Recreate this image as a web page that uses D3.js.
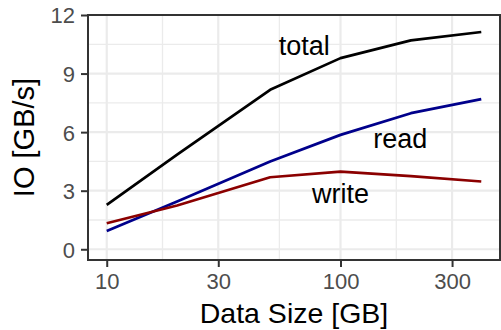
<!DOCTYPE html>
<html><head><meta charset="utf-8">
<script src="https://cdn.jsdelivr.net/npm/d3@7"></script>
<style>body{margin:0;background:#fff}svg{display:block;font-family:"Liberation Sans",Arial,sans-serif}</style>
</head><body><svg id="c" width="501" height="330"></svg>
<script>
const sizes = [10, 20, 50, 100, 200, 400];
const totalIO = [2.27, 4.85, 8.17, 9.79, 10.7, 11.13];
const readIO = [0.94, 2.45, 4.5, 5.86, 6.97, 7.69];
const writeIO = [1.33, 2.24, 3.69, 3.98, 3.75, 3.47];
const xTicks = [10, 30, 100, 300];
const yTicks = [0, 3, 6, 9, 12];
const seriesNames = ["total", "read", "write"];
const seriesColors = ["#000000", "#00008B", "#8B0000"];
const labelX = [70, 180, 100];
const labelY = [10.45, 5.7, 2.85];
const seriesValues = [totalIO, readIO, writeIO];

const svg = d3.select("#c");
const L = 88, R = 500, T = 15, B = 260;
const lmin = Math.log10(10), lmax = Math.log10(400), ex = (lmax - lmin) * 0.05;
const x = d3.scaleLog().domain([Math.pow(10, lmin - ex), Math.pow(10, lmax + ex)]).range([L, R]);
const y = d3.scaleLinear().domain([-0.55, 12]).range([B, T]);

// grid
const g = svg.append("g");
const minorX = xTicks.slice(0, -1).map((d, i) => Math.sqrt(d * xTicks[i + 1]));
const minorY = yTicks.slice(0, -1).map((d, i) => (d + yTicks[i + 1]) / 2);
g.selectAll(".mx").data(minorX).join("line").attr("x1", d => x(d)).attr("x2", d => x(d)).attr("y1", T).attr("y2", B).attr("stroke", "#EBEBEB").attr("stroke-width", 1.3);
g.selectAll(".my").data(minorY).join("line").attr("y1", d => y(d)).attr("y2", d => y(d)).attr("x1", L).attr("x2", R).attr("stroke", "#EBEBEB").attr("stroke-width", 1.3);
g.selectAll(".Mx").data(xTicks).join("line").attr("x1", d => x(d)).attr("x2", d => x(d)).attr("y1", T).attr("y2", B).attr("stroke", "#EBEBEB").attr("stroke-width", 2.2);
g.selectAll(".My").data(yTicks).join("line").attr("y1", d => y(d)).attr("y2", d => y(d)).attr("x1", L).attr("x2", R).attr("stroke", "#EBEBEB").attr("stroke-width", 2.2);

// lines
const line = d3.line().x((d, i) => x(sizes[i])).y(d => y(d));
seriesValues.forEach((vals, k) => {
  svg.append("path").attr("d", line(vals)).attr("fill", "none").attr("stroke", seriesColors[k]).attr("stroke-width", 2.7).attr("stroke-linejoin", "round");
});

// labels
svg.selectAll(".lab").data(seriesNames).join("text").attr("x", (d, i) => x(labelX[i])).attr("y", (d, i) => y(labelY[i]))
  .attr("dy", "0.36em").attr("text-anchor", "middle").attr("font-size", 27).attr("fill", "#000").text(d => d);

// border
svg.append("rect").attr("x", L).attr("y", T).attr("width", R - L).attr("height", B - T).attr("fill", "none").attr("stroke", "#333333").attr("stroke-width", 2);

// axes
const xa = svg.append("g").attr("transform", `translate(0,${B})`).call(d3.axisBottom(x).tickValues(xTicks).tickFormat(d3.format("d")).tickSize(7).tickPadding(6));
const ya = svg.append("g").attr("transform", `translate(${L},0)`).call(d3.axisLeft(y).tickValues(yTicks).tickSize(7).tickPadding(6));
[xa, ya].forEach(a => {
  a.select(".domain").remove();
  a.selectAll(".tick line").attr("stroke", "#333333").attr("stroke-width", 2);
  a.selectAll(".tick text").attr("fill", "#4D4D4D").attr("font-size", 22).attr("font-family", "Liberation Sans, Arial, sans-serif");
});
ya.selectAll(".tick text").attr("dy", "0.36em");

svg.append("text").attr("x", (L + R) / 2).attr("y", 323).attr("text-anchor", "middle").attr("font-size", 28.5).attr("fill", "#000").text("Data Size [GB]");
svg.append("text").attr("transform", `translate(34,${(T + B) / 2}) rotate(-90)`).attr("text-anchor", "middle").attr("font-size", 29).attr("fill", "#000").text("IO [GB/s]");
</script></body></html>
